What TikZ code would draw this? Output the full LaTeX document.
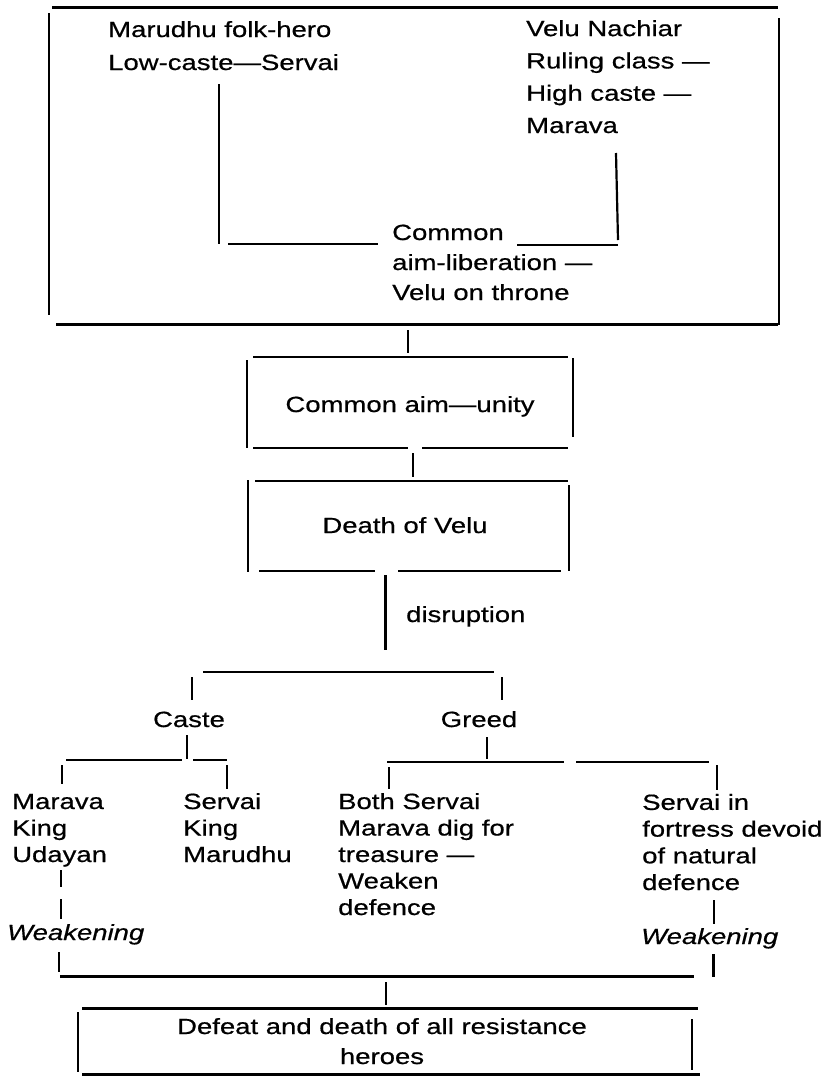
\documentclass[tikz,border=0pt]{standalone}
\usepackage{fontspec}
\setmainfont{Liberation Sans}[FakeStretch=1.25,FakeBold=0.6]
\begin{document}
\begin{tikzpicture}[x=1pt,y=-1pt,
  txt/.style={inner sep=0pt, anchor=base west, align=left, font=\fontsize{22}{33}\selectfont},
  midtxt/.style={inner sep=0pt, anchor=base, align=center, font=\fontsize{22}{30}\selectfont},
  lowtxt/.style={inner sep=0pt, anchor=base west, align=left, font=\fontsize{22}{26.5}\selectfont},
  heavy/.style={line width=3pt},
  rule/.style={line width=2.2pt},
  tick/.style={line width=1.5pt}]
\useasboundingbox (0,0) rectangle (831,1077);

% ---------- texts (base anchor = baseline of the last line) ----------
\node[txt] (marudhu) at (108,70) {Marudhu folk-hero\\Low-caste—Servai};
\node[txt, font=\fontsize{22}{32.3}\selectfont] (velu) at (526,133) {Velu Nachiar\\Ruling class —\\High caste —\\Marava};
\node[txt, font=\fontsize{22}{30}\selectfont] (common) at (392,300) {Common\\aim-liberation —\\Velu on throne};
\node[midtxt] (unity) at (410,412) {Common aim—unity};
\node[midtxt] (death) at (405,533) {Death of Velu};
\node[txt] (disr) at (406,622) {disruption};
\node[midtxt] (caste) at (189,727) {Caste};
\node[midtxt] (greed) at (479,727) {Greed};
\node[lowtxt] (udayan) at (12,862) {Marava\\King\\Udayan};
\node[lowtxt] (smarudhu) at (183,862) {Servai\\King\\Marudhu};
\node[lowtxt] (both) at (338,915) {Both Servai\\Marava dig for\\treasure —\\Weaken\\defence};
\node[lowtxt, font=\fontsize{22}{26.7}\selectfont] (fort) at (642,890) {Servai in\\fortress devoid\\of natural\\defence};
\node[lowtxt, font=\fontsize{22}{26.5}\selectfont\itshape] (weakL) at (7,940) {Weakening};
\node[lowtxt, font=\fontsize{22}{26.5}\selectfont\itshape] (weakR) at (641,944) {Weakening};
\node[midtxt] (defeat) at (382,1064) {Defeat and death of all resistance\\heroes};

% ---------- top box ----------
\draw[heavy] (52,7) -- (778,7);
\draw[rule] (49,13) -- (49,315);
\draw[rule] (779,18) -- (779,325);
\draw[heavy] (56,324) -- (778,324);

% connectors inside the top box
\coordinate (lA) at (219,84);
\coordinate (lB) at (219,244);
\coordinate (lC) at (228,244);
\coordinate (lD) at (378,244);
\coordinate (rA) at (616,153);
\coordinate (rB) at (618,240);
\coordinate (rC) at (618,245);
\coordinate (rD) at (517,245);
\draw[rule] (lA) -- (lB);
\draw[rule] (lC) -- (lD);
\draw[rule] (rA) -- (rB);
\draw[rule] (rC) -- (rD);

% top box -> box 2
\coordinate (c1a) at (408,330);
\coordinate (c1b) at (408,353);
\draw[tick] (c1a) -- (c1b);

% ---------- box 2 ----------
\draw[rule] (253,357) -- (568,357);
\draw[rule] (247,360) -- (247,448);
\draw[rule] (573,358) -- (573,437);
\draw[rule] (253,448) -- (408,448);
\draw[rule] (422,448) -- (568,448);

% box 2 -> box 3
\coordinate (c2a) at (413,453);
\coordinate (c2b) at (413,477);
\draw[tick] (c2a) -- (c2b);

% ---------- box 3 ----------
\draw[rule] (255,481) -- (568,481);
\draw[line width=2.6pt] (248,480) -- (248,572);
\draw[line width=2.6pt] (569,485) -- (569,571);
\draw[rule] (259,571) -- (375,571);
\draw[rule] (398,571) -- (561,571);

% disruption
\coordinate (dA) at (385,575);
\coordinate (dB) at (385,650);
\draw[heavy] (dA) -- (dB);

% branch to Caste / Greed
\draw[rule] (203,672) -- (494,672);
\draw[tick] (192,677) -- (192,700);
\draw[tick] (502,677) -- (502,700);

% Caste branch
\draw[rule] (187,735) -- (187,759);
\draw[rule] (66,760) -- (182,760);
\draw[rule] (193,760) -- (227,760);
\draw[tick] (62,765) -- (62,784);
\draw[tick] (227,765) -- (227,789);

% Greed branch
\draw[rule] (487,737) -- (487,759);
\draw[rule] (387,762) -- (564,762);
\draw[rule] (576,762) -- (709,762);
\draw[tick] (389,767) -- (389,789);
\draw[tick] (717,765) -- (717,790);

% left column
\draw[rule] (61,870) -- (61,887);
\draw[tick] (61,899) -- (61,919);
\draw[tick] (59,952) -- (59,972);

% right column
\draw[tick] (714,900) -- (714,924);
\draw[heavy] (713,954) -- (713,977);

% join line
\draw[heavy] (60,976) -- (694,976);
\draw[tick] (386,982) -- (386,1005);

% ---------- bottom box ----------
\draw[heavy] (82,1008) -- (698,1008);
\draw[rule] (78,1012) -- (78,1072);
\draw[rule] (692,1019) -- (692,1070);
\draw[heavy] (82,1074.5) -- (700,1074.5);
\end{tikzpicture}
\end{document}
